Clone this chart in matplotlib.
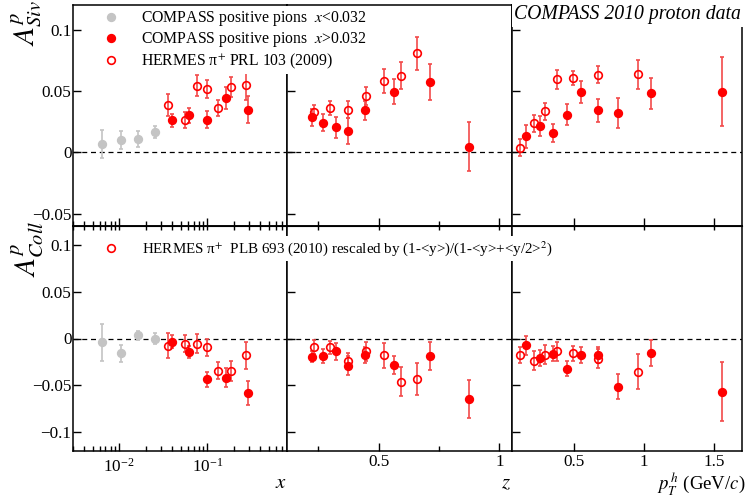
import numpy as np
import matplotlib.pyplot as plt
from matplotlib.ticker import FixedLocator, FuncFormatter, NullFormatter

plt.rcParams['font.family'] = ['Liberation Serif', 'DejaVu Serif']
plt.rcParams['mathtext.fontset'] = 'stix'

# ---- data ----
# x dependence
x_gray = [0.0064, 0.0105, 0.0162, 0.0253]
siv_x_gray = [0.0065, 0.0102, 0.0108, 0.0167]
siv_x_gray_err = [0.0115, 0.0074, 0.0062, 0.0049]
coll_x_gray = [-0.004, -0.0156, 0.0036, 0.0]
coll_x_gray_err = [0.0195, 0.009, 0.0049, 0.0058]

x_comp = [0.0397, 0.0625, 0.100, 0.161, 0.287]
siv_x_comp = [0.026, 0.030, 0.0265, 0.044, 0.0345]
siv_x_comp_err = [0.005, 0.006, 0.007, 0.009, 0.011]
coll_x_comp = [-0.0036, -0.0145, -0.0437, -0.0416, -0.0578]
coll_x_comp_err = [0.0069, 0.006, 0.0076, 0.010, 0.0126]

x_herm = [0.0358, 0.0558, 0.0757, 0.0985, 0.133, 0.184, 0.272]
siv_x_herm = [0.0386, 0.0265, 0.0543, 0.0516, 0.036, 0.0532, 0.0546]
siv_x_herm_err = [0.009, 0.0065, 0.0084, 0.0072, 0.0068, 0.0084, 0.0116]
coll_x_herm = [-0.0076, -0.0054, -0.0054, -0.0094, -0.0343, -0.035, -0.018]
coll_x_herm_err = [0.0132, 0.0094, 0.010, 0.0094, 0.0088, 0.0107, 0.0144]

# z dependence
z_comp = [0.222, 0.270, 0.322, 0.372, 0.442, 0.562, 0.714, 0.876]
siv_z_comp = [0.0284, 0.024, 0.0203, 0.0175, 0.0343, 0.0495, 0.0576, 0.0046]
siv_z_comp_err = [0.0068, 0.007, 0.0088, 0.0105, 0.0077, 0.0104, 0.0147, 0.0197]
coll_z_comp = [-0.0192, -0.0188, -0.0138, -0.029, -0.0174, -0.0282, -0.0188, -0.0643]
coll_z_comp_err = [0.0061, 0.0074, 0.009, 0.0099, 0.0085, 0.010, 0.0153, 0.0204]

z_herm = [0.233, 0.300, 0.372, 0.446, 0.522, 0.591, 0.660]
siv_z_herm = [0.0332, 0.0365, 0.0346, 0.0462, 0.0578, 0.0624, 0.0805]
siv_z_herm_err = [0.005, 0.0057, 0.007, 0.0074, 0.0097, 0.0112, 0.0131]
coll_z_herm = [-0.009, -0.0094, -0.0239, -0.0138, -0.018, -0.0459, -0.0434]
coll_z_herm_err = [0.0072, 0.0069, 0.0087, 0.0099, 0.0132, 0.015, 0.0173]

# pT dependence
pt_comp = [0.157, 0.255, 0.352, 0.452, 0.55, 0.671, 0.817, 1.048, 1.556]
siv_pt_comp = [0.013, 0.0216, 0.0157, 0.0308, 0.0495, 0.0343, 0.0324, 0.048, 0.0495]
siv_pt_comp_err = [0.0093, 0.0081, 0.0074, 0.0084, 0.009, 0.0092, 0.0122, 0.0127, 0.028]
coll_pt_comp = [-0.0072, -0.021, -0.0163, -0.0322, -0.0174, -0.0177, -0.0513, -0.0156, -0.0567]
coll_pt_comp_err = [0.010, 0.0085, 0.0081, 0.0081, 0.0085, 0.0085, 0.013, 0.0139, 0.0316]

pt_herm = [0.114, 0.214, 0.295, 0.376, 0.493, 0.671, 0.959]
siv_pt_herm = [0.0037, 0.0235, 0.0335, 0.0595, 0.0605, 0.0632, 0.0635]
siv_pt_herm_err = [0.0068, 0.007, 0.007, 0.0076, 0.0058, 0.007, 0.0119]
coll_pt_herm = [-0.0174, -0.0235, -0.0174, -0.0138, -0.0159, -0.0217, -0.0354]
coll_pt_herm_err = [0.0085, 0.0098, 0.010, 0.0099, 0.0078, 0.010, 0.0184]

legend_top = [r'COMPASS positive pions  $x$<0.032',
              r'COMPASS positive pions  $x$>0.032',
              r'HERMES π$^{+}$ PRL 103 (2009)']
legend_bottom = ['HERMES π$^{+}$  PLB 693 (2010) rescaled by (1-<y>)/(1-<y>+<y/2>$^{2}$)']

W, H = 747, 501
fig = plt.figure(figsize=(W / 100, H / 100), dpi=100)

red = '#ff0000'
red_bar = '#f24a4a'
gray = '#c4c4c4'

# panel edges in pixels
xedges = [73, 287, 511.5, 742]
yedges = [5, 226, 451]


def make_ax(col, row, xlim, ylim):
    l, r = xedges[col], xedges[col + 1]
    t, b = yedges[row], yedges[row + 1]
    ax = fig.add_axes([l / W, 1 - b / H, (r - l) / W, (b - t) / H])
    for s in ax.spines.values():
        s.set_linewidth(1.1)
    if col == 0:
        ax.set_xscale('log')
    ax.set_xlim(xlim)
    ax.set_ylim(ylim)
    ax.axhline(0, color='k', ls=(0, (4, 3)), lw=0.9, zorder=1)
    ax.tick_params(which='both', direction='in', top=False, right=False,
                   labelsize=12.3, width=1)
    ax.tick_params(axis='y', pad=1)
    ax.tick_params(axis='x', pad=2)
    ax.tick_params(which='major', length=6)
    ax.tick_params(which='minor', length=3.5)
    return ax


def pts(ax, x, y, e, color, ecolor, filled=True):
    c = ax.errorbar(x, y, yerr=e, fmt='o', ms=5.5, mec=color,
                    mfc=color if filled else 'none', mew=1.2,
                    ecolor=ecolor, elinewidth=1.2, capsize=1.6, capthick=1,
                    zorder=3)
    return c


yfmt = FuncFormatter(lambda v, p: ('%g' % round(v, 3)).replace('-', '\u2212'))

xlims = [(0.003, 0.8), (0.12, 1.05), (0.053, 1.7)]
ylims = [(-0.06, 0.12), (-0.12, 0.12)]

axes = {}
for row in range(2):
    for col in range(3):
        axes[(row, col)] = make_ax(col, row, xlims[col], ylims[row])

# top row: Sivers
ax = axes[(0, 0)]
h1 = pts(ax, x_gray, siv_x_gray, siv_x_gray_err, gray, gray)
h2 = pts(ax, x_comp, siv_x_comp, siv_x_comp_err, red, red_bar)
h3 = pts(ax, x_herm, siv_x_herm, siv_x_herm_err, red, red_bar, filled=False)
ax = axes[(0, 1)]
pts(ax, z_herm, siv_z_herm, siv_z_herm_err, red, red_bar, filled=False)
pts(ax, z_comp, siv_z_comp, siv_z_comp_err, red, red_bar)
ax = axes[(0, 2)]
pts(ax, pt_herm, siv_pt_herm, siv_pt_herm_err, red, red_bar, filled=False)
pts(ax, pt_comp, siv_pt_comp, siv_pt_comp_err, red, red_bar)

# bottom row: Collins
ax = axes[(1, 0)]
pts(ax, x_gray, coll_x_gray, coll_x_gray_err, gray, gray)
pts(ax, x_comp, coll_x_comp, coll_x_comp_err, red, red_bar)
h4 = pts(ax, x_herm, coll_x_herm, coll_x_herm_err, red, red_bar, filled=False)
ax = axes[(1, 1)]
pts(ax, z_herm, coll_z_herm, coll_z_herm_err, red, red_bar, filled=False)
pts(ax, z_comp, coll_z_comp, coll_z_comp_err, red, red_bar)
ax = axes[(1, 2)]
pts(ax, pt_herm, coll_pt_herm, coll_pt_herm_err, red, red_bar, filled=False)
pts(ax, pt_comp, coll_pt_comp, coll_pt_comp_err, red, red_bar)

# ticks
for row in range(2):
    yt = [-0.05, 0, 0.05, 0.1] if row == 0 else [-0.1, -0.05, 0, 0.05, 0.1]
    for col in range(3):
        ax = axes[(row, col)]
        ax.yaxis.set_major_locator(FixedLocator(yt))
        ax.yaxis.set_major_formatter(yfmt)
        if col > 0:
            ax.tick_params(labelleft=False)
        if col == 1:
            ax.xaxis.set_major_locator(FixedLocator([0.5, 1.0]))
            ax.xaxis.set_minor_locator(FixedLocator([0.25, 0.75]))
            ax.xaxis.set_major_formatter(FuncFormatter(lambda v, p: '%g' % v))
        if col == 2:
            ax.xaxis.set_major_locator(FixedLocator([0.5, 1.0, 1.5]))
            ax.xaxis.set_major_formatter(FuncFormatter(lambda v, p: '%g' % v))
        if row == 0:
            ax.tick_params(labelbottom=False)
        else:
            sec = ax.secondary_xaxis('top')
            sec.tick_params(which='both', direction='in', length=3, width=1,
                            labeltop=False)
            if col == 1:
                sec.xaxis.set_major_locator(FixedLocator([0.25, 0.5, 0.75, 1.0]))
            if col == 2:
                sec.xaxis.set_major_locator(FixedLocator([0.5, 1.0, 1.5]))
            sec.xaxis.set_minor_formatter(NullFormatter())
            sec.xaxis.set_major_formatter(NullFormatter())

axes[(1, 0)].tick_params(axis='x', pad=5)

# legends on top of panel borders
leg1 = fig.legend([h1.lines[0], h2.lines[0], h3.lines[0]], legend_top,
                  loc='upper left', bbox_to_anchor=(102 / W, 1 - 6 / H),
                  frameon=True, fontsize=11.3, handlelength=0.8,
                  handletextpad=1.5, labelspacing=0.14, borderpad=0.2,
                  borderaxespad=0)
leg1.get_frame().set_edgecolor('none')
leg1.get_frame().set_facecolor('white')
leg1.get_frame().set_alpha(1)

leg2 = fig.legend([h4.lines[0]], legend_bottom,
                  loc='upper left', bbox_to_anchor=(102 / W, 1 - 236 / H),
                  frameon=True, fontsize=10.8, handlelength=0.8,
                  handletextpad=1.7, borderpad=0.2, borderaxespad=0)
leg2.get_frame().set_edgecolor('none')
leg2.get_frame().set_facecolor('white')
leg2.get_frame().set_alpha(1)

fig.text(741 / W, 1 - 15 / H, 'COMPASS 2010 proton data', ha='right',
         va='center', fontsize=14.2, style='italic',
         bbox=dict(facecolor='white', edgecolor='none', pad=1.5))

# axis titles
fig.text(27 / W, 1 - 23 / H, r'$A^{p}_{Siv}$', rotation=90, ha='center',
         va='center', fontsize=21)
fig.text(27 / W, 1 - 249 / H, r'$A^{p}_{Coll}$', rotation=90, ha='center',
         va='center', fontsize=21)
fig.text(281 / W, 1 - 484 / H, r'$x$', ha='center', va='center', fontsize=15)
fig.text(506 / W, 1 - 484 / H, r'$z$', ha='center', va='center', fontsize=15)
fig.text(745 / W, 1 - 484 / H, r'$p^{\,h}_{T}$ (GeV/$c$)', ha='right',
         va='center', fontsize=13.5)

fig.savefig('out.png', dpi=100)
